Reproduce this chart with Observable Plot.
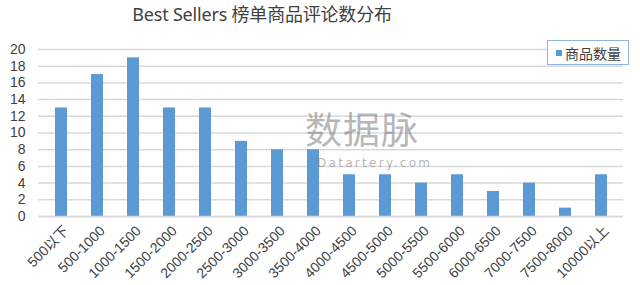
<!DOCTYPE html>
<html><head><meta charset="utf-8">
<script src="https://cdn.jsdelivr.net/npm/d3@7"></script>
<script src="https://cdn.jsdelivr.net/npm/@observablehq/plot@0.6"></script>
<style>
html,body{margin:0;padding:0;background:#fff;}
#wrap{position:relative;width:640px;height:285px;overflow:hidden;font-family:"Noto Sans","Noto Sans CJK SC",sans-serif;}
#title{position:absolute;left:0;top:0;width:524px;text-align:center;font-size:18px;line-height:28px;color:#404040;font-family:"Noto Sans","Noto Sans CJK SC",sans-serif;letter-spacing:-0.2px;}
#chart{position:absolute;left:0;top:28px;}
#legend{position:absolute;left:547px;top:40px;width:80px;height:23px;border:1px solid #8fb4de;background:#fff;font-size:14px;color:#404040;display:flex;align-items:center;box-sizing:content-box;font-family:"Noto Sans CJK SC",sans-serif;}
#legend .sw{width:6px;height:6px;background:#5b9bd5;margin:0 3px 0 8px;}
#wm{position:absolute;left:305px;top:108px;color:rgba(120,120,120,0.55);pointer-events:none;}
#wm .cn{font-size:37px;line-height:40px;font-family:"Noto Sans CJK SC",sans-serif;letter-spacing:1px;}
#wm .en{font-size:12px;line-height:12px;letter-spacing:2.3px;padding-left:12px;margin-top:9px;font-family:"DejaVu Sans",sans-serif;}
</style></head>
<body>
<div id="wrap">
  <div id="title">Best Sellers 榜单商品评论数分布</div>
  <div id="chart"></div>
  <div id="wm"><div class="cn">数据脉</div><div class="en">Datartery.com</div></div>
  <div id="legend"><div class="sw"></div><span>商品数量</span></div>
</div>
<script>
const categories = ["500以下","500-1000","1000-1500","1500-2000","2000-2500","2500-3000","3000-3500","3500-4000","4000-4500","4500-5000","5000-5500","5500-6000","6000-6500","7000-7500","7500-8000","10000以上"];
const counts = [13,17,19,13,13,9,8,8,5,5,4,5,3,4,1,5];
const yTicks = [0,2,4,6,8,10,12,14,16,18,20];
const seriesName = "商品数量";

const data = categories.map((c,i)=>({category:c, value:counts[i], series:seriesName}));

const chart = Plot.plot({
  width: 640,
  height: 257,
  marginTop: 21,
  marginBottom: 69,
  marginLeft: 38,
  marginRight: 17,
  style: {fontFamily: "'Liberation Sans','Noto Sans CJK SC',sans-serif", fontSize: "14px", color: "#404040", background: "transparent"},
  x: {domain: categories, paddingInner: 0.67, paddingOuter: 0.335, label: null},
  y: {domain: [0,20], ticks: yTicks, label: null, tickSize: 0, tickPadding: 13, grid: false},
  marks: [
    Plot.gridY(yTicks, {stroke: "#d9d9d9", strokeOpacity: 1, strokeWidth: 1.5}),
    Plot.barY(data, {x: "category", y: "value", fill: "#5b9bd5"}),
    Plot.ruleY([0], {stroke: "#d9d9d9", strokeWidth: 1.5}),
    Plot.axisX({tickSize: 0, tickPadding: 12, tickRotate: -45, dx: 5, label: null})
  ]
});
document.getElementById("chart").appendChild(chart);
</script>
</body></html>
